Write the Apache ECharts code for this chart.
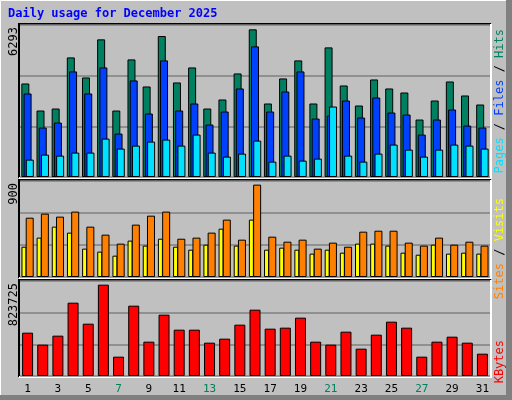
<!DOCTYPE html>
<html><head><meta charset="utf-8">
<script src="https://cdn.jsdelivr.net/npm/echarts@6/dist/echarts.min.js"></script>
<style>html,body{margin:0;padding:0;background:#c0c0c0}#c{width:512px;height:400px}</style>
</head><body><div id="c"></div>
<script>
const days = ['1','2','3','4','5','6','7','8','9','10','11','12','13','14','15','16','17','18','19','20','21','22','23','24','25','26','27','28','29','30','31'];
const weekends = ['6','7','13','14','20','21','27','28'];
const hits = [3872,2752,2835,4951,4121,5698,2752,4868,3748,5836,3914,4536,2835,3209,4287,6113,3043,4080,4827,3043,5366,3789,2960,4038,3665,3499,2379,3167,3955,3375,3001];
const files = [3458,2047,2254,4370,3458,4536,1798,3997,2628,4827,2752,3043,2171,2711,3665,5408,2711,3540,4370,2420,2545,3167,2462,3292,2669,2586,1756,2379,2794,2130,2047];
const pages = [719,927,885,1010,1010,1590,1176,1300,1466,1549,1300,1756,1010,844,968,1507,636,885,678,761,2918,885,636,968,1342,1134,844,1134,1342,1300,1176];
const visits = [556,594,566,613,472,397,313,491,575,613,359,369,416,538,350,866,378,331,350,266,322,284,425,434,434,322,294,369,303,331,294];
const sites = [284,369,472,416,266,238,200,341,294,359,284,256,303,453,294,538,256,275,256,219,256,228,313,313,294,228,209,303,219,228,219];
const kbytes = [375700,271700,349700,635800,453700,791900,167600,609800,297700,531800,401700,401700,289000,323700,445100,575100,410400,419100,505800,297700,271700,384400,237000,358400,471100,419100,167600,297700,341000,289000,193600];
const maxLabels = ['6293','900','823725'];
const maxes = [6293, 900, 823725];

const L = 20, R = 22;
const panels = [{top:25,h:152},{top:181,h:96},{top:281,h:95}];
const mono = 'DejaVu Sans Mono';
const grid = panels.map(p => ({left:L, right:R, top:p.top, height:p.h, containLabel:false}));
const xAxis = panels.map((p,i) => ({
  type:'category', gridIndex:i, data:days,
  axisLine:{show:false}, axisTick:{show:false},
  axisLabel: i===2 ? {show:true, margin:8, fontFamily:mono, fontSize:11,
    color: (v)=> weekends.includes(v) ? '#00805c' : '#000'} : {show:false}
}));
const yAxis = panels.map((p,i) => ({
  type:'value', gridIndex:i, min:0, max:maxes[i], interval:maxes[i]/3,
  axisLabel:{show:false}, axisLine:{show:false}, axisTick:{show:false},
  splitLine:{show:true, lineStyle:{color:'#808080', width:1.5}}
}));
const bs = {borderColor:'#000', borderWidth:1};
const series = [
  {type:'bar', xAxisIndex:0, yAxisIndex:0, data:hits, barWidth:8, barGap:'-72%', itemStyle:{color:'#008060',...bs}, animation:false},
  {type:'bar', xAxisIndex:0, yAxisIndex:0, data:files, barWidth:8, barGap:'-72%', itemStyle:{color:'#0040ff',...bs}, animation:false},
  {type:'bar', xAxisIndex:0, yAxisIndex:0, data:pages, barWidth:8, barGap:'-72%', itemStyle:{color:'#00e0ff',...bs}, animation:false},
  {type:'bar', xAxisIndex:1, yAxisIndex:1, data:sites, barWidth:5, barGap:'-15%', itemStyle:{color:'#ffff00',...bs}, animation:false},
  {type:'bar', xAxisIndex:1, yAxisIndex:1, data:visits, barWidth:8, barGap:'-15%', itemStyle:{color:'#ff8000',...bs}, animation:false},
  {type:'bar', xAxisIndex:2, yAxisIndex:2, data:kbytes, barWidth:11, itemStyle:{color:'#ff0000',...bs}, animation:false}
];
const g = [];
// outer frame
g.push({type:'rect', shape:{x:0.5,y:0.5,width:511,height:399}, style:{fill:null, stroke:'#ffffff', lineWidth:1}});
g.push({type:'rect', shape:{x:506,y:0,width:6,height:400}, style:{fill:'#808080'}});
g.push({type:'rect', shape:{x:0,y:395,width:512,height:5}, style:{fill:'#808080'}});
// panel frames
panels.forEach(p => {
  const x1=L-1, x2=512-R+1, y1=p.top-1, y2=p.top+p.h+1;
  g.push({type:'polyline', shape:{points:[[x1,y2],[x1,y1],[x2,y1]]}, style:{stroke:'#000', lineWidth:2, fill:null}});
  g.push({type:'polyline', shape:{points:[[x1,y2],[x2,y2],[x2,y1]]}, style:{stroke:'#ffffff', lineWidth:2, fill:null}});
});
g.push({type:'text', left:8, top:8, style:{text:'Daily usage for December 2025', font:'bold 12px "DejaVu Sans Mono"', fill:'#0000ff'}});
const labelTops = [27, 183, 283];
maxLabels.forEach((t,i) => g.push({type:'text', x:14, y:labelTops[i], rotation:Math.PI/2,
  style:{text:t, font:'12px "DejaVu Sans Mono"', fill:'#000', align:'right', verticalAlign:'middle'}}));
function legend(y, parts){
  g.push({type:'text', x:500, y:y, rotation:Math.PI/2,
    style:{text:parts.map((p,i)=>'{c'+i+'|'+p[0]+'}').join(''), align:'right', verticalAlign:'middle',
      font:'12px "DejaVu Sans Mono"',
      rich:Object.fromEntries(parts.map((p,i)=>['c'+i,{fill:p[1], font:'12px "DejaVu Sans Mono"'}]))}});
}
legend(29, [['Pages','#00e0ff'],[' / ','#000'],['Files','#0040ff'],[' / ','#000'],['Hits','#008060']]);
legend(198, [['Sites','#ff8000'],[' / ','#000'],['Visits','#ffff00']]);
legend(340, [['KBytes','#ff0000']]);

const chart = echarts.init(document.getElementById('c'), null, {renderer:'canvas'});
chart.setOption({backgroundColor:'#c0c0c0', animation:false, grid, xAxis, yAxis, series, graphic:g});
</script></body></html>
